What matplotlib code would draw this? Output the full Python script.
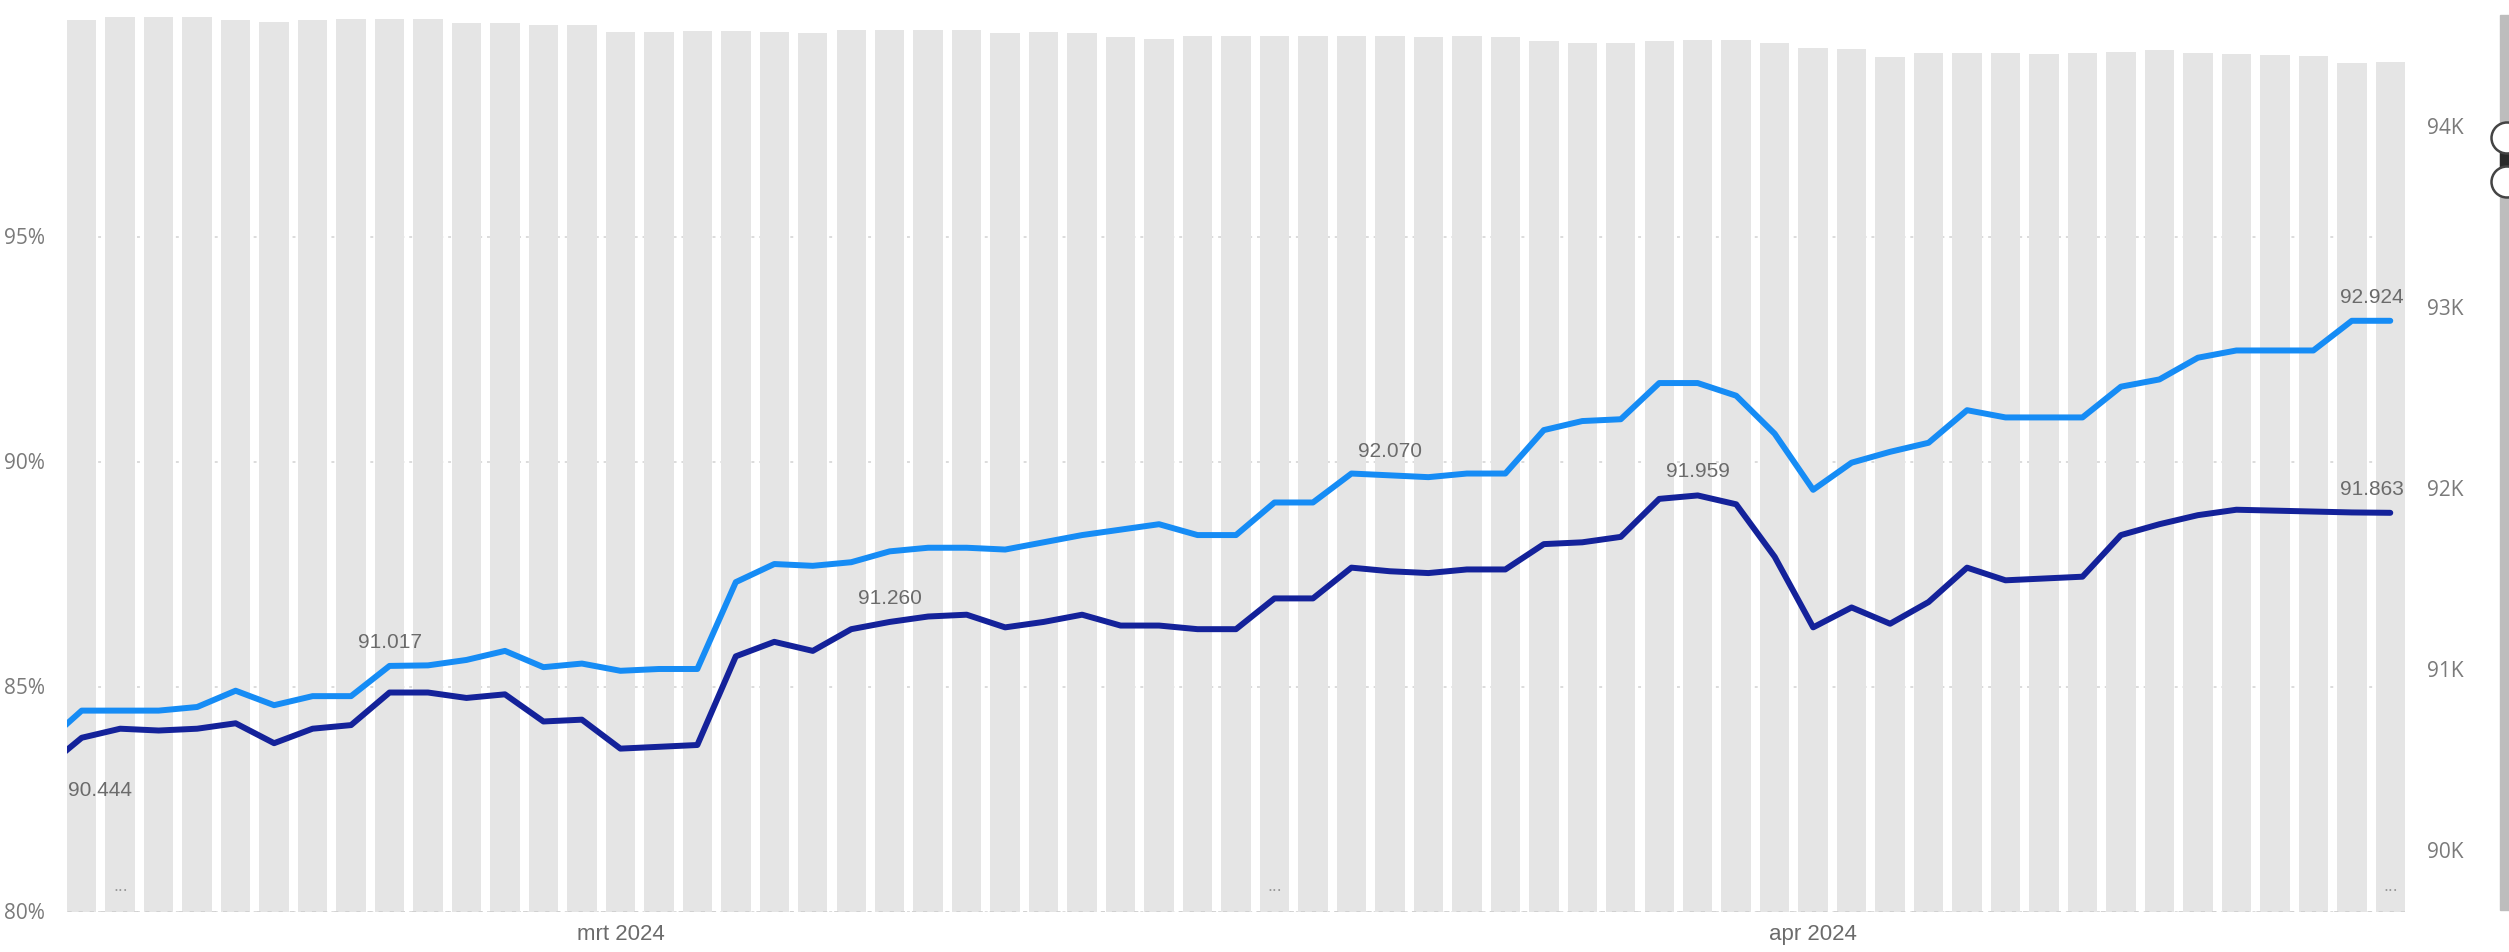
import numpy as np
import pandas as pd
import matplotlib
matplotlib.use("Agg")
import matplotlib.pyplot as plt
import matplotlib.dates as mdates
from matplotlib.patches import Rectangle, Ellipse
from matplotlib.ticker import FixedLocator, FuncFormatter

# ---------------- data ----------------
bar_dates = pd.date_range("2024-02-16", "2024-04-16", freq="D")   # 61 days
line_dates = pd.date_range("2024-02-15", "2024-04-16", freq="D")  # 62 days (first one clipped)

bar_pct = [99.81, 99.88, 99.88, 99.88, 99.81, 99.77, 99.81, 99.83, 99.83, 99.83,
           99.75, 99.74, 99.70, 99.70, 99.55, 99.55, 99.57, 99.57, 99.55, 99.52,
           99.60, 99.60, 99.60, 99.60, 99.53, 99.55, 99.52, 99.44, 99.40, 99.46,
           99.46, 99.46, 99.46, 99.46, 99.45, 99.44, 99.46, 99.44, 99.35, 99.29,
           99.31, 99.35, 99.37, 99.37, 99.29, 99.20, 99.16, 98.98, 99.08, 99.08,
           99.07, 99.06, 99.07, 99.11, 99.14, 99.07, 99.06, 99.03, 99.01, 98.86,
           98.88]

light_k = [90.58,
           90.77, 90.77, 90.77, 90.79, 90.88, 90.80, 90.85, 90.85, 91.017, 91.02,
           91.05, 91.10, 91.01, 91.03, 90.99, 91.00, 91.00, 91.48, 91.58, 91.57,
           91.59, 91.65, 91.67, 91.67, 91.66, 91.70, 91.74, 91.77, 91.80, 91.74,
           91.74, 91.92, 91.92, 92.08, 92.070, 92.06, 92.08, 92.08, 92.32, 92.37,
           92.38, 92.58, 92.58, 92.51, 92.30, 91.99, 92.14, 92.20, 92.25, 92.43,
           92.39, 92.39, 92.39, 92.56, 92.60, 92.72, 92.76, 92.76, 92.76, 92.924,
           92.924]

dark_k = [90.444,
          90.62, 90.67, 90.66, 90.67, 90.70, 90.59, 90.67, 90.69, 90.87, 90.87,
          90.84, 90.86, 90.71, 90.72, 90.56, 90.57, 90.58, 91.07, 91.15, 91.10,
          91.22, 91.260, 91.29, 91.30, 91.23, 91.26, 91.30, 91.24, 91.24, 91.22,
          91.22, 91.39, 91.39, 91.56, 91.54, 91.53, 91.55, 91.55, 91.69, 91.70,
          91.73, 91.94, 91.959, 91.91, 91.62, 91.23, 91.34, 91.25, 91.37, 91.56,
          91.49, 91.50, 91.51, 91.74, 91.80, 91.85, 91.88, 91.875, 91.87, 91.865,
          91.863]

light_label_dates = ["2024-02-24", "2024-03-21", "2024-04-16"]
dark_label_dates = ["2024-03-08", "2024-03-29", "2024-04-16"]
dark_first_label_date = "2024-02-15"
dots_dates = ["2024-02-17", "2024-03-18", "2024-04-16"]

left_ticks = [80, 85, 90, 95]
right_ticks = [90, 91, 92, 93, 94]
month_ticks = ["2024-03-01", "2024-04-01"]
month_labels = ["mrt 2024", "apr 2024"]

# ---------------- style ----------------
W, H, DPI = 2509, 952, 100
BAR_COLOR = "#e5e5e5"
LIGHT = "#168cf5"
DARK = "#14229a"
TICK_COLOR = "#7a7a7a"
LABEL_COLOR = "#6b6b6b"
BAR_W = 0.765
LW = 4.3

fig = plt.figure(figsize=(W / DPI, H / DPI), dpi=DPI)
fig.patch.set_facecolor("white")
ax = fig.add_axes([67 / W, 1 - 911.5 / H, (2405 - 67) / W, (911.5 - 11.5) / H])

ax.bar(bar_dates, bar_pct, width=BAR_W, color=BAR_COLOR, zorder=2, linewidth=0)
ax.set_ylim(80, 100)
x0 = mdates.date2num(bar_dates[0]) - BAR_W / 2
x1 = mdates.date2num(bar_dates[-1]) + BAR_W / 2
ax.set_xlim(x0, x1)

ax.set_axisbelow(True)
ax.yaxis.set_major_locator(FixedLocator(left_ticks))
ax.yaxis.set_major_formatter(FuncFormatter(lambda v, p: f"{v:.0f}%"))
ax.grid(axis="y", color="#dcdcdc", linestyle=(0, (1.5, 2.5)), linewidth=1.4, zorder=0)
ax.axhline(80, color="#cfcfcf", linestyle=(0, (1.5, 2.5)), linewidth=2.0, zorder=3)

ax.set_xticks([mdates.date2num(pd.Timestamp(d)) for d in month_ticks])
ax.set_xticklabels(month_labels, fontsize=16, color=LABEL_COLOR, family="Liberation Sans")
ax.tick_params(axis="x", length=0, pad=9)
ax.tick_params(axis="y", length=0, pad=16, labelsize=15, labelcolor=TICK_COLOR)
for lab in ax.get_yticklabels():
    lab.set_family("Open Sans")
for s in ax.spines.values():
    s.set_visible(False)

for d in dots_dates:
    ax.text(mdates.date2num(pd.Timestamp(d)), 80.55, "...", ha="center", va="center",
            fontsize=13, color="#9a9a9a", zorder=4, family="Liberation Sans")

ax2 = ax.twinx()
ax2.set_ylim(89.66, 94.633)
ax2.plot(line_dates, light_k, color=LIGHT, lw=LW, solid_joinstyle="round",
         solid_capstyle="round", zorder=5)
ax2.plot(line_dates, dark_k, color=DARK, lw=LW, solid_joinstyle="round",
         solid_capstyle="round", zorder=5)
ax2.yaxis.set_major_locator(FixedLocator(right_ticks))
ax2.yaxis.set_major_formatter(FuncFormatter(lambda v, p: f"{v:.0f}K"))
ax2.tick_params(axis="y", length=0, pad=16, labelsize=15, labelcolor=TICK_COLOR)
for lab in ax2.get_yticklabels():
    lab.set_family("Open Sans")
for s in ax2.spines.values():
    s.set_visible(False)

light_s = pd.Series(light_k, index=line_dates)
dark_s = pd.Series(dark_k, index=line_dates)

def label(series, d, dx=0, dy=17, ha="center"):
    t = pd.Timestamp(d)
    v = series[t]
    ax2.annotate(f"{v:.3f}", xy=(mdates.date2num(t), v), xytext=(dx, dy),
                 textcoords="offset points", ha=ha, va="center", fontsize=15,
                 color=LABEL_COLOR, family="Liberation Sans", zorder=6,
                 annotation_clip=False)

for i, d in enumerate(light_label_dates):
    label(light_s, d, dx=-13 if i == len(light_label_dates) - 1 else 0)
for i, d in enumerate(dark_label_dates):
    label(dark_s, d, dx=-13 if i == len(dark_label_dates) - 1 else 0)
label(dark_s, dark_first_label_date, dx=18, dy=-15, ha="left")

# zoom slider on the right edge
def fx(x):
    return x / W

def fy(y):
    return 1 - y / H

fig.add_artist(Rectangle((fx(2500), fy(910)), fx(12), (910 - 15) / H,
                         transform=fig.transFigure, color="#bdbdbd", zorder=1))
fig.add_artist(Rectangle((fx(2500), fy(182)), fx(12), (182 - 138) / H,
                         transform=fig.transFigure, color="#2b2b2b", zorder=2))
for cy in (138, 182):
    fig.add_artist(Ellipse((fx(2507), fy(cy)), 2 * 15.5 / W, 2 * 15.5 / H,
                           transform=fig.transFigure, facecolor="white",
                           edgecolor="#444444", lw=1.8, zorder=3))

fig.savefig("out.png", dpi=DPI, facecolor="white")
